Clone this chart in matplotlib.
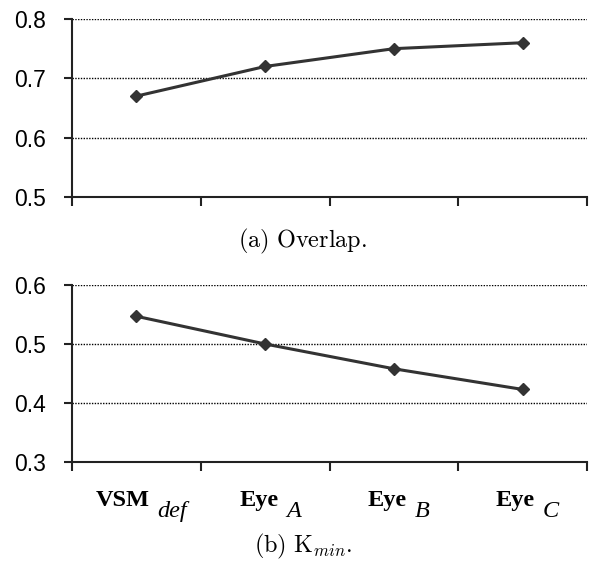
import matplotlib
matplotlib.use("Agg")
import matplotlib.pyplot as plt
from matplotlib.ticker import FixedLocator, NullFormatter

categories = ["VSM", "Eye", "Eye", "Eye"]
subscripts = ["def", "A", "B", "C"]
overlap = [0.67, 0.72, 0.75, 0.76]
kmin = [0.547, 0.50, 0.458, 0.423]
overlap_ticks = [0.5, 0.6, 0.7, 0.8]
kmin_ticks = [0.3, 0.4, 0.5, 0.6]

plt.rcParams['mathtext.fontset'] = 'cm'
W, H = 598, 561
fig = plt.figure(figsize=(W / 100, H / 100), dpi=100)

def frac_rect(x0, y_top, x1, y_bot):
    return [x0 / W, 1 - y_bot / H, (x1 - x0) / W, (y_bot - y_top) / H]

ax1 = fig.add_axes(frac_rect(72, 19, 587, 197))
ax2 = fig.add_axes(frac_rect(72, 285, 587, 462))

line_color = "#333333"
tick_font = dict(family="Liberation Sans", size=16.5)

def style(ax, values, ticks):
    x = list(range(len(values)))
    ax.plot(x, values, color=line_color, lw=2.2, marker="D", ms=6.5,
            mfc=line_color, mec=line_color, zorder=3, clip_on=False)
    ax.set_xlim(-0.5, len(values) - 0.5)
    ax.set_ylim(ticks[0], ticks[-1])
    ax.set_yticks(ticks)
    ax.set_yticklabels([f"{t:.1f}" for t in ticks], **tick_font)
    for t in ticks[1:]:
        ax.axhline(t, color="black", lw=1.0, ls=(0, (1, 1)), zorder=1)
    ax.xaxis.set_major_locator(FixedLocator([i - 0.5 for i in range(len(values) + 1)]))
    ax.xaxis.set_major_formatter(NullFormatter())
    for s in ["top", "right"]:
        ax.spines[s].set_visible(False)
    for s in ["left", "bottom"]:
        ax.spines[s].set_linewidth(1.5)
        ax.spines[s].set_color("#222222")
    ax.tick_params(axis="x", direction="out", length=6.5, width=1.5, color="#222222")
    ax.tick_params(axis="y", direction="out", length=6, width=1.5, color="#222222", pad=13)

style(ax1, overlap, overlap_ticks)
style(ax2, kmin, kmin_ticks)

# category labels: bold main word + italic lowered "subscript" of the same size
renderer = fig.canvas.get_renderer()
trans = ax2.get_xaxis_transform()
gap_px = 8
for i, (c, s) in enumerate(zip(categories, subscripts)):
    cx_disp = trans.transform((i, 0))[0]
    t1 = fig.text(0, 0, c, fontsize=17.5, family="Liberation Serif", weight="bold",
                  ha="left", va="baseline")
    t2 = fig.text(0, 0, s, fontsize=17.5, family="Liberation Serif", style="italic",
                  ha="left", va="baseline")
    w1 = t1.get_window_extent(renderer).width
    w2 = t2.get_window_extent(renderer).width
    start = cx_disp + 5 - (w1 + gap_px + w2) / 2
    t1.set_position((start / W, 1 - 506 / H))
    t2.set_position(((start + w1 + gap_px) / W, 1 - 517 / H))

fig.text(303 / W, 1 - 247 / H, r"$\mathrm{(a)\ Overlap.}$", ha="center", va="baseline", fontsize=17.5)
fig.text(303 / W, 1 - 552 / H, r"$\mathrm{(b)\ K}_{min}\mathrm{.}$", ha="center", va="baseline", fontsize=17.5)

fig.savefig("out.png", dpi=100)
